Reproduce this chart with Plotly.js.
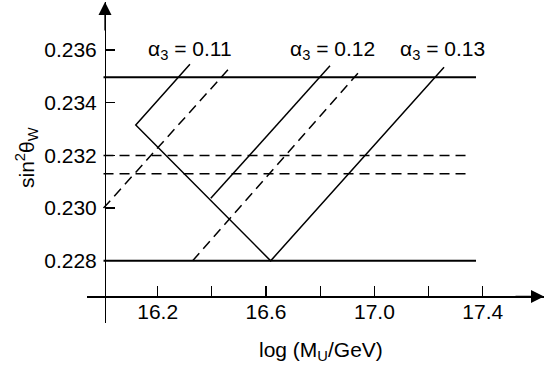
<!DOCTYPE html>
<html>
<head>
<meta charset="utf-8">
<script src="https://cdn.plot.ly/plotly-3.0.1.min.js"></script>
<style>html,body{margin:0;padding:0;background:#fff;}#chart{width:544px;height:368px;}</style>
</head>
<body>
<div id="chart"></div>
<script>
// ---- data ----
// solid polyline: alpha3=0.11 arm -> kink -> V bottom -> alpha3=0.13 arm
const mainSolidX = [16.319, 16.119, 16.617, 17.257];
const mainSolidY = [0.23546, 0.23315, 0.2280, 0.23534];
// alpha3 = 0.12 solid segment
const a12SolidX = [16.396, 16.836];
const a12SolidY = [0.23037, 0.23540];
// dashed diagonals
const a11DashX = [16.000, 16.470];
const a11DashY = [0.2300, 0.23537];
const a12DashX = [16.329, 16.953];
const a12DashY = [0.2280, 0.23528];
// horizontal bands
const hSolidY = [0.23496, 0.2280];
const hSolidX = [16.0, 17.375];
const hDashY = [0.2320, 0.2313];
const hDashX = [16.0, 17.343];
// labels
const alphaLabels = ['α<sub>3</sub> = 0.11', 'α<sub>3</sub> = 0.12', 'α<sub>3</sub> = 0.13'];
const labelX = [16.319, 16.846, 17.253];
const labelY = [0.23598, 0.23598, 0.23598];
// ticks
const xTickVals = [16.2, 16.6, 17.0, 17.4];
const xTickText = ['16.2', '16.6', '17.0', '17.4'];
const xMinorVals = [16.4, 16.8, 17.2];
const yTickVals = [0.228, 0.230, 0.232, 0.234, 0.236];
const yTickText = ['0.228', '0.230', '0.232', '0.234', '0.236'];
const xTitle = 'log (M<sub>U</sub>/GeV)';
const yTitle = 'sin<sup>2</sup>θ<sub>W</sub>';

const FONT = 'Liberation Sans, Arial, Helvetica, sans-serif';
const FS = 21;
const XR = [15.939, 17.626];
const YR = [0.22564, 0.23782];

const traces = [];
function seg(x, y, dash, w) {
  traces.push({x: x, y: y, mode: 'lines', type: 'scatter', hoverinfo: 'skip', showlegend: false,
    line: {color: '#000', width: w, dash: dash}});
}
seg(mainSolidX, mainSolidY, 'solid', 1.5);
seg(a12SolidX, a12SolidY, 'solid', 1.5);
seg(a11DashX, a11DashY, '10px,6px', 1.5);
seg(a12DashX, a12DashY, '10px,6px', 1.5);
hSolidY.forEach(v => seg(hSolidX, [v, v], 'solid', 2));
hDashY.forEach(v => seg(hDashX, [v, v], '10px,6px', 1.5));

const annotations = alphaLabels.map((t, i) => ({
  x: labelX[i], y: labelY[i], xref: 'x', yref: 'y', text: t, showarrow: false,
  xanchor: 'center', yanchor: 'middle', font: {family: FONT, size: FS, color: '#000'}
}));
// axis arrows
annotations.push({x: XR[1], y: 0.22665, xref: 'x', yref: 'y', ax: -30, ay: 0, axref: 'pixel', ayref: 'pixel',
  text: '', showarrow: true, arrowhead: 2, arrowsize: 2, arrowwidth: 1.3, arrowcolor: '#000'});
annotations.push({x: (105 - 87) / 457, y: YR[1], xref: 'paper', yref: 'y', ax: 0, ay: 30,
  text: '', showarrow: true, arrowhead: 2, arrowsize: 2, arrowwidth: 1.3, arrowcolor: '#000'});
// axis titles
annotations.push({x: (321 - 87) / 457, y: (323 - 351) / 321, xref: 'paper', yref: 'paper', text: xTitle,
  showarrow: false, xanchor: 'center', yanchor: 'middle', font: {family: FONT, size: FS, color: '#000'}});
annotations.push({x: (26 - 87) / 457, y: (323 - 157) / 321, xref: 'paper', yref: 'paper', text: yTitle,
  textangle: -90, showarrow: false, xanchor: 'center', yanchor: 'middle', font: {family: FONT, size: FS, color: '#000'}});

const layout = {
  width: 544, height: 368,
  margin: {l: 87, r: 0, t: 2, b: 45, pad: 0},
  paper_bgcolor: '#fff', plot_bgcolor: '#fff',
  showlegend: false,
  font: {family: FONT, size: FS, color: '#000'},
  xaxis: {
    range: XR, anchor: 'free', position: (323 - 296.3) / 321,
    showline: true, linecolor: '#000', linewidth: 1.3,
    showgrid: false, zeroline: false,
    tickmode: 'array', tickvals: xTickVals, ticktext: xTickText,
    ticks: 'inside', ticklen: 10, tickwidth: 1.2, tickcolor: '#000',
    minor: {tickmode: 'array', tickvals: xMinorVals, ticks: 'inside', ticklen: 10, tickwidth: 1.2, tickcolor: '#000', showgrid: false},
    tickfont: {family: FONT, size: FS, color: '#000'},
    ticklabelstandoff: -4, fixedrange: true
  },
  yaxis: {
    range: YR, anchor: 'free', position: (105 - 87) / 457, side: 'left',
    showline: true, linecolor: '#000', linewidth: 1.3,
    showgrid: false, zeroline: false,
    tickmode: 'array', tickvals: yTickVals, ticktext: yTickText,
    ticks: 'inside', ticklen: 9, tickwidth: 1.2, tickcolor: '#000',
    tickfont: {family: FONT, size: FS, color: '#000'},
    ticklabelstandoff: 4, fixedrange: true
  },
  annotations: annotations
};

Plotly.newPlot('chart', traces, layout, {staticPlot: true, displayModeBar: false});
</script>
</body>
</html>
